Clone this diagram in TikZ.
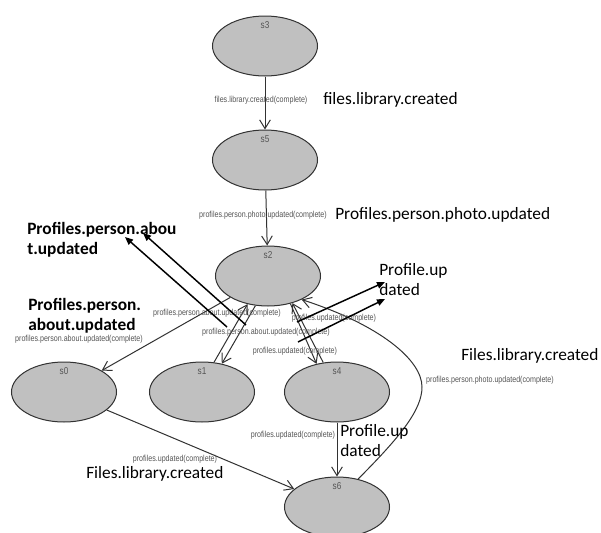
\documentclass[tikz,border=0pt]{standalone}
\usepackage{fontspec}
\setmainfont{Carlito}
\newfontfamily\edgefont[FakeStretch=0.82]{Liberation Sans}
\usetikzlibrary{arrows.meta,shapes.geometric}
\definecolor{statefill}{RGB}{192,192,192}
\definecolor{stateline}{RGB}{50,50,50}
\definecolor{edgegray}{RGB}{50,50,50}
\definecolor{labelgray}{RGB}{85,85,85}

\begin{document}
\begin{tikzpicture}[x=0.75pt,y=-0.75pt,
  state/.style={ellipse, draw=stateline, fill=statefill, line width=0.75pt,
    minimum width=78.75pt, minimum height=45pt, inner sep=0pt},
  statename/.style={anchor=north, inner sep=0pt, yshift=-4.5pt,
    font=\edgefont\fontsize{7.5}{8}\selectfont, text=labelgray},
  edge/.style={draw=edgegray, line width=0.75pt,
    -{Straight Barb[length=6.5pt,width=8pt]}},
  elabel/.style={font=\edgefont\fontsize{6.5}{7}\selectfont, text=labelgray, inner sep=0pt},
  note/.style={font=\fontsize{13}{15}\selectfont, anchor=west, align=left, inner sep=0pt},
  boldnote/.style={note, font=\fontsize{13}{15}\selectfont\bfseries},
  pointer/.style={draw=black, line width=1.1pt, -{Triangle[length=6pt,width=5pt]}}
]
\fill[white] (0,0) rectangle (601,533);
\clip (0,0) rectangle (601,533);

% states
\node[state, label={[statename]north:s3}] (s3) at (265,46) {};
\node[state, label={[statename]north:s5}] (s5) at (265,160) {};
\node[state, label={[statename]north:s2}] (s2) at (268,276) {};
\node[state, label={[statename]north:s0}] (s0) at (64,392) {};
\node[state, label={[statename]north:s1}] (s1) at (202,392) {};
\node[state, label={[statename]north:s4}] (s4) at (337,392) {};
\node[state, label={[statename]north:s6}] (s6) at (337,507) {};

% transitions
\draw[edge] (s3) -- (s5);
\draw[edge] (s5) -- (s2);
\draw[edge] (s2) -- (s0);
\draw[edge] (s1.68) -- (s2.234);
\draw[edge] (s2.247) -- (s1.55);
\draw[edge] (s2.309) -- (s4.126);
\draw[edge] (s4.115) -- (s2.312);
\draw[edge] (s4) -- (s6);
\draw[edge] (s0) -- (s6);
\coordinate (bulge) at (422,387);
\draw[edge] (s6.53) .. controls (400,437) and (422,410) .. (bulge)
  .. controls (422,360) and (380,325) .. (s2.325);

% transition labels
\node[elabel] (l1) at (261,100) {files.library.created(complete)};
\node[elabel] (l2) at (263,215) {profiles.person.photo.updated(complete)};
\node[elabel] (l3) at (79,339) {profiles.person.about.updated(complete)};
\node[elabel] (l4) at (217,313) {profiles.person.about.updated(complete)};
\node[elabel] (l5) at (266,332) {profiles.person.about.updated(complete)};
\node[elabel] (l6) at (334,318) {profiles.updated(complete)};
\node[elabel] (l7) at (295,351) {profiles.updated(complete)};
\node[elabel] (l8) at (490,380) {profiles.person.photo.updated(complete)};
\node[elabel] (l9) at (293,435) {profiles.updated(complete)};
\node[elabel] (l10) at (175,459) {profiles.updated(complete)};

% annotations
\node[note] (t1) at (323,100) {files.library.created};
\node[note] (t2) at (335,215) {Profiles.person.photo.updated};
\node[boldnote] (t3) at (27,240) {Profiles.person.abou\\t.updated};
\node[boldnote] (t4) at (28,316) {Profiles.person.\\about.updated};
\node[note] (t5) at (379,280) {Profile.up\\dated};
\node[note] (t6) at (461,356) {Files.library.created};
\node[note] (t7) at (86,474) {Files.library.created};
\node[note] (t8) at (340,441) {Profile.up\\dated};

% annotation pointers
\coordinate (p1s) at (227,327); \coordinate (p1e) at (125,237);
\coordinate (p2s) at (246,325); \coordinate (p2e) at (143,233);
\coordinate (p3s) at (297,322); \coordinate (p3e) at (385,282);
\coordinate (p4s) at (298,342); \coordinate (p4e) at (385,299);
\draw[pointer] (p1s) -- (p1e);
\draw[pointer] (p2s) -- (p2e);
\draw[pointer] (p3s) -- (p3e);
\draw[pointer] (p4s) -- (p4e);
\end{tikzpicture}
\end{document}
